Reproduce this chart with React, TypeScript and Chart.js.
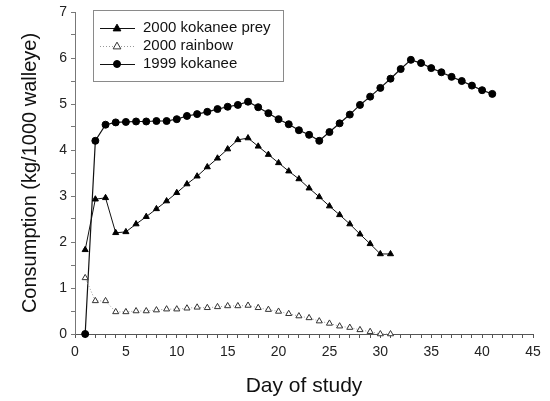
import React, { useEffect, useRef } from "react";
import { Chart, registerables } from "chart.js";

Chart.register(...registerables);

// ---- data ----
const days1999 = [1, 2, 3, 4, 5, 6, 7, 8, 9, 10, 11, 12, 13, 14, 15, 16, 17, 18, 19, 20, 21, 22, 23, 24, 25, 26, 27, 28, 29, 30, 31, 32, 33, 34, 35, 36, 37, 38, 39, 40, 41];
const kokanee1999 = [0, 4.2, 4.55, 4.6, 4.61, 4.62, 4.62, 4.63, 4.63, 4.67, 4.74, 4.78, 4.83, 4.89, 4.94, 4.98, 5.05, 4.93, 4.8, 4.67, 4.56, 4.43, 4.33, 4.2, 4.39, 4.58, 4.77, 4.98, 5.16, 5.35, 5.55, 5.76, 5.96, 5.89, 5.78, 5.69, 5.59, 5.5, 5.4, 5.3, 5.22];

const days2000 = [1, 2, 3, 4, 5, 6, 7, 8, 9, 10, 11, 12, 13, 14, 15, 16, 17, 18, 19, 20, 21, 22, 23, 24, 25, 26, 27, 28, 29, 30, 31];
const kokaneePrey2000 = [1.83, 2.93, 2.96, 2.2, 2.22, 2.39, 2.55, 2.72, 2.89, 3.07, 3.26, 3.43, 3.63, 3.82, 4.02, 4.22, 4.26, 4.08, 3.9, 3.72, 3.54, 3.37, 3.17, 2.98, 2.78, 2.59, 2.39, 2.17, 1.96, 1.74, 1.74];
const rainbow2000 = [1.22, 0.72, 0.72, 0.48, 0.48, 0.5, 0.5, 0.52, 0.54, 0.54, 0.56, 0.58, 0.57, 0.59, 0.61, 0.61, 0.62, 0.57, 0.53, 0.49, 0.44, 0.39, 0.35, 0.28, 0.23, 0.17, 0.14, 0.09, 0.05, 0.0, 0.0];

const seriesLabels = ["2000 kokanee prey", "2000 rainbow", "1999 kokanee"];
const xTitle = "Day of study";
const yTitle = "Consumption (kg/1000 walleye)";
const xMin = 0, xMax = 45, xStep = 1, xLabelEvery = 5;
const yMin = 0, yMax = 7, yStep = 0.5;

const FONT = "'Liberation Sans', Arial, Helvetica, sans-serif";

function toPoints(xs: number[], ys: number[]) {
  return xs.map((x, i) => ({ x, y: ys[i] }));
}

const legendPlugin = {
  id: "boxLegend",
  afterDraw(chart: any) {
    const ctx = chart.ctx as CanvasRenderingContext2D;
    ctx.save();
    const bx = 93, by = 10, bw = 190, bh = 71;
    ctx.fillStyle = "#ffffff";
    ctx.fillRect(bx, by, bw, bh);
    ctx.strokeStyle = "#8a8a8a";
    ctx.lineWidth = 1;
    ctx.strokeRect(bx + 0.5, by + 0.5, bw, bh);
    const rows = [28, 46, 64];
    chart.data.datasets.forEach((ds: any, i: number) => {
      const y = rows[i];
      ctx.save();
      ctx.strokeStyle = ds.borderColor;
      ctx.lineWidth = ds.borderWidth;
      ctx.setLineDash(ds.borderDash || []);
      ctx.beginPath();
      ctx.moveTo(100, y + 0.5);
      ctx.lineTo(135, y + 0.5);
      ctx.stroke();
      ctx.restore();
      const cx = 117;
      const r = ds.pointRadius;
      ctx.save();
      ctx.fillStyle = ds.pointBackgroundColor;
      ctx.strokeStyle = ds.pointBorderColor;
      ctx.lineWidth = 1;
      ctx.beginPath();
      if (ds.pointStyle === "circle") {
        ctx.arc(cx, y, r, 0, Math.PI * 2);
      } else {
        const s = r * 1.1;
        ctx.moveTo(cx, y - s);
        ctx.lineTo(cx + s, y + s * 0.75);
        ctx.lineTo(cx - s, y + s * 0.75);
        ctx.closePath();
      }
      ctx.fill();
      ctx.stroke();
      ctx.restore();
      ctx.fillStyle = "#111";
      ctx.font = `15px ${FONT}`;
      ctx.textBaseline = "middle";
      ctx.textAlign = "left";
      ctx.fillText(ds.label, 143, y);
    });
    ctx.restore();
  },
};

export default function App() {
  const ref = useRef<HTMLCanvasElement | null>(null);
  useEffect(() => {
    document.body.style.margin = "0";
    const canvas = ref.current;
    if (!canvas) return;
    const chart = new Chart(canvas, {
      type: "line",
      data: {
        datasets: [
          {
            label: seriesLabels[0],
            data: toPoints(days2000, kokaneePrey2000),
            borderColor: "#111",
            borderWidth: 1,
            pointStyle: "triangle",
            pointRadius: 3.5,
            pointBackgroundColor: "#000",
            pointBorderColor: "#000",
            pointBorderWidth: 1,
            fill: false,
            tension: 0,
            clip: false,
          } as any,
          {
            label: seriesLabels[1],
            data: toPoints(days2000, rainbow2000),
            borderColor: "#999",
            borderWidth: 1,
            borderDash: [1, 2],
            pointStyle: "triangle",
            pointRadius: 3.5,
            pointBackgroundColor: "#fff",
            pointBorderColor: "#333",
            pointBorderWidth: 1,
            fill: false,
            tension: 0,
            clip: false,
          } as any,
          {
            label: seriesLabels[2],
            data: toPoints(days1999, kokanee1999),
            borderColor: "#111",
            borderWidth: 1.2,
            pointStyle: "circle",
            pointRadius: 3.5,
            pointBackgroundColor: "#000",
            pointBorderColor: "#000",
            pointBorderWidth: 1,
            fill: false,
            tension: 0,
            clip: false,
          } as any,
        ],
      },
      options: {
        animation: false,
        responsive: true,
        maintainAspectRatio: false,
        layout: { padding: { top: 12, right: 17, left: 0, bottom: 0 } },
        plugins: {
          legend: { display: false },
          tooltip: { enabled: false },
        },
        scales: {
          x: {
            type: "linear",
            min: xMin,
            max: xMax,
            border: { display: true, color: "#555", width: 1 },
            grid: { display: true, drawOnChartArea: false, drawTicks: true, tickLength: 4, color: "#555" },
            ticks: {
              stepSize: xStep,
              autoSkip: false,
              maxRotation: 0,
              padding: 6,
              color: "#222",
              font: { size: 14, family: FONT },
              callback: (v: any) => (Number(v) % xLabelEvery === 0 ? String(v) : ""),
            },
            title: {
              display: true,
              text: xTitle,
              color: "#111",
              font: { size: 21, family: FONT },
              padding: { top: 0, bottom: 2 },
            },
            afterFit: (scale: any) => {
              scale.height = 67;
              scale.paddingLeft = 0;
              scale.paddingRight = 0;
            },
          },
          y: {
            type: "linear",
            min: yMin,
            max: yMax,
            border: { display: true, color: "#777", width: 1 },
            grid: { display: true, drawOnChartArea: false, drawTicks: true, tickLength: 4, color: "#777" },
            ticks: {
              stepSize: yStep,
              autoSkip: false,
              padding: 4,
              color: "#222",
              font: { size: 14, family: FONT },
              callback: (v: any) => (Number.isInteger(Number(v)) ? String(v) : ""),
            },
            title: {
              display: true,
              text: yTitle,
              color: "#111",
              font: { size: 20, family: FONT },
              padding: { top: 18, bottom: 0 },
            },
            afterFit: (scale: any) => {
              scale.width = 75;
              scale.paddingTop = 0;
              scale.paddingBottom = 0;
            },
          },
        },
      },
      plugins: [legendPlugin],
    });
    return () => chart.destroy();
  }, []);
  return (
    <div style={{ width: 550, height: 401, position: "relative" }}>
      <canvas ref={ref} />
    </div>
  );
}
